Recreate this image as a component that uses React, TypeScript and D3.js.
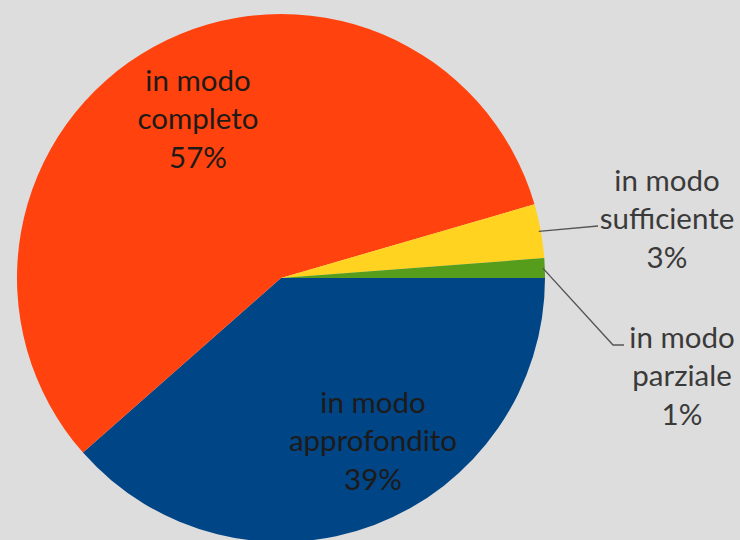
import * as d3 from 'd3'

const categories = ['in modo approfondito', 'in modo completo', 'in modo sufficiente', 'in modo parziale']
const shares = [38.5, 57.0, 3.3, 1.2]
const labelLines = [
  ['in modo', 'approfondito'],
  ['in modo', 'completo'],
  ['in modo', 'sufficiente'],
  ['in modo', 'parziale'],
]
const colors = ['#004586', '#ff420e', '#ffd320', '#579d1c']

// label layout: centre of the label block, where leader lines bend
const labelPos = [
  { x: 373, y: 441, inside: true },
  { x: 198, y: 119, inside: true },
  { x: 667, y: 219, inside: false, bend: null as null | [number, number], end: [598, 226] },
  { x: 682, y: 376, inside: false, bend: [613, 345], end: [624, 345] },
]

const W = 740
const H = 540
const cx = 281
const cy = 278
const radius = 264
const lineGap = 38.5

export default function App() {
  const pie = d3.pie<number>().sort(null).startAngle(Math.PI / 2).endAngle(Math.PI / 2 + 2 * Math.PI)
  const arcs = pie(shares)
  const arc = d3.arc<d3.PieArcDatum<number>>().innerRadius(0).outerRadius(radius)
  const rimArc = d3.arc<d3.PieArcDatum<number>>().innerRadius(radius - 2).outerRadius(radius - 2)

  return (
    <svg width={W} height={H} style={{ position: 'absolute', left: 0, top: 0, background: '#dddddd' }}
      fontFamily="Lato, 'Open Sans', sans-serif">
      <rect width={W} height={H} fill="#dddddd" />
      <g transform={`translate(${cx},${cy})`}>
        {arcs.map((a, i) => (
          <path key={categories[i]} d={arc(a) ?? ''} fill={colors[i]} />
        ))}
        {arcs.map((a, i) => {
          const lp = labelPos[i]
          if (lp.inside || !lp.end) return null
          const [sx, sy] = rimArc.centroid(a)
          const pts: [number, number][] = [[sx, sy]]
          if (lp.bend) pts.push([lp.bend[0] - cx, lp.bend[1] - cy])
          pts.push([lp.end[0] - cx, lp.end[1] - cy])
          return (
            <path key={'l' + i} d={d3.line()(pts) ?? ''} fill="none" stroke="#555555" strokeWidth={1.4} />
          )
        })}
      </g>
      {arcs.map((a, i) => {
        const lp = labelPos[i]
        const lines = [...labelLines[i], `${Math.round(a.data)}%`]
        return (
          <text key={'t' + i} x={lp.x} y={lp.y} textAnchor="middle" fontSize={29.5}
            fill={lp.inside ? '#1e1a18' : '#3a3a3a'}>
            {lines.map((s, j) => (
              <tspan key={j} x={lp.x} y={lp.y + (j - 1) * lineGap} dy="0.35em">{s}</tspan>
            ))}
          </text>
        )
      })}
    </svg>
  )
}
